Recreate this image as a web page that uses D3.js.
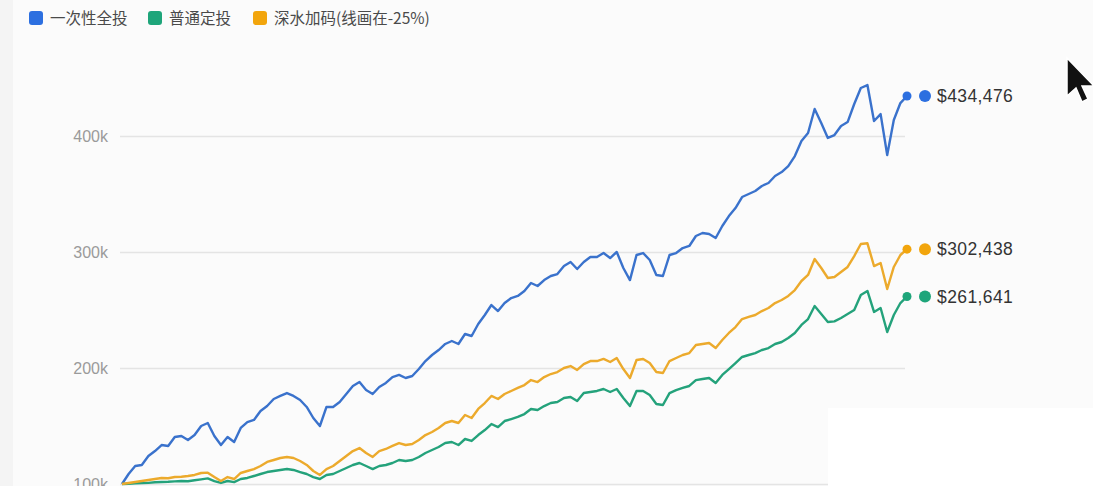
<!DOCTYPE html>
<html>
<head>
<meta charset="utf-8">
<script src="https://cdn.jsdelivr.net/npm/d3@7"></script>
<style>
  html, body { margin: 0; padding: 0; background: #fbfbfb; }
  svg { display: block; }
</style>
</head>
<body>
<svg id="chart"></svg>
<script>
// values in thousands of dollars, one point per period
let lumpSum = [
  100, 108.6, 115.5, 116.4, 124.1, 128.4, 133.6, 132.8, 140.5, 141.4,
  137.9, 142.2, 150.0, 152.6, 141.4, 133.6, 140.5, 136.2, 148.3, 153.4,
  155.2, 162.9, 167.2, 173.3, 175.9, 178.4, 175.9, 172.4, 166.4, 156.9,
  150.0, 166.4, 166.4, 170.7, 177.6, 184.5, 187.9, 181.0, 177.6, 183.6,
  187.1, 192.2, 194.0, 191.4, 193.1, 199.1, 206.0, 211.2, 215.5, 220.7,
  223.3, 220.7, 229.3, 227.6, 237.9, 245.7, 254.3, 249.1, 256.0, 260.3,
  262.1, 266.4, 273.3, 270.7, 275.8, 279.3, 281.0, 287.9, 291.4, 285.3,
  291.4, 295.7, 295.7, 299.1, 294.8, 300.0, 286.2, 275.8, 297.4, 299.1,
  293.1, 280.2, 279.3, 297.4, 299.1, 303.4, 305.2, 313.8, 316.4, 315.5,
  312.1, 322.4, 331.0, 337.9, 347.4, 350.0, 352.6, 356.9, 359.5, 365.5,
  368.9, 374.1, 382.7, 395.7, 402.6, 423.3, 411.2, 398.3, 400.8, 408.6,
  412.0, 427.6, 441.4, 443.9, 412.9, 418.9, 383.6, 413.8, 428.4, 434.476
];

let regularDca = [
  100, 100.2, 100.5, 100.8, 101.0, 101.5, 101.7, 101.9, 102.3, 102.6,
  102.4, 103.2, 104.0, 104.8, 102.5, 100.9, 102.6, 101.6, 104.3, 105.2,
  106.9, 108.6, 110.3, 111.2, 112.1, 112.9, 112.1, 110.3, 108.6, 106.0,
  104.3, 107.8, 108.6, 111.2, 113.8, 116.4, 118.1, 115.5, 112.9, 115.5,
  116.4, 118.1, 120.7, 119.8, 120.7, 123.3, 126.7, 129.3, 131.9, 135.3,
  136.2, 133.6, 138.8, 137.1, 142.2, 146.5, 151.7, 149.1, 154.3, 156.0,
  157.8, 160.3, 164.7, 163.8, 167.2, 169.8, 170.7, 174.1, 175.0, 171.5,
  178.4, 179.3, 180.2, 181.9, 179.3, 181.9, 174.1, 167.2, 180.2, 180.2,
  176.7, 169.0, 168.1, 178.4, 181.0, 182.8, 184.5, 189.6, 190.5, 191.4,
  187.1, 194.0, 199.1, 204.3, 209.5, 211.2, 212.9, 215.5, 217.2, 220.7,
  222.4, 225.9, 230.2, 237.1, 242.2, 253.4, 246.5, 239.6, 240.2, 243.1,
  246.5, 250.0, 262.9, 266.4, 248.3, 251.7, 231.0, 245.7, 256.0, 261.641
];

let deepValue = [
  100, 100.9, 101.7, 102.6, 103.4, 104.3, 105.2, 105.0, 106.0, 106.3,
  106.9, 107.8, 109.5, 109.8, 106.0, 102.6, 106.0, 104.3, 109.5, 111.2,
  112.9, 115.5, 119.0, 120.7, 122.4, 123.3, 122.4, 119.8, 116.4, 111.2,
  107.8, 112.9, 115.5, 119.8, 124.1, 128.4, 131.0, 126.7, 123.3, 128.4,
  130.2, 132.8, 135.3, 133.6, 134.5, 137.9, 142.2, 144.8, 148.3, 152.6,
  154.3, 152.6, 159.5, 156.9, 164.7, 169.8, 175.9, 173.3, 177.6, 180.2,
  182.8, 185.3, 189.6, 187.9, 192.2, 194.8, 196.5, 200.0, 201.7, 198.3,
  203.4, 206.0, 206.0, 207.8, 205.2, 208.6, 199.1, 191.4, 206.9, 207.8,
  204.3, 196.5, 195.7, 206.0, 208.6, 211.2, 212.9, 219.8, 220.7, 221.5,
  217.2, 224.1, 230.2, 235.3, 242.2, 244.0, 245.7, 249.1, 251.7, 256.0,
  258.6, 262.1, 267.2, 275.0, 280.2, 293.9, 286.2, 277.6, 278.4, 282.7,
  287.1, 296.5, 306.9, 307.5, 287.9, 290.5, 268.1, 287.1, 297.4, 302.438
];

let seriesNames = ["一次性全投", "普通定投", "深水加码(线画在-25%)"];
let yTicks = [100, 200, 300, 400];

let width = 1093;
let height = 486;
let plot = {left: 122, right: 907, top: 136, bottom: 484};
let lineColors = ["#3a72cc", "#24a27b", "#ecaa2c"];
let dotColors = ["#2c6fe0", "#1ea57a", "#f2a50c"];
let font = "'Helvetica Neue', Arial, 'Liberation Sans', 'Noto Sans CJK SC', sans-serif";

let series = [lumpSum, regularDca, deepValue];

let svg = d3.select("#chart")
    .attr("width", width)
    .attr("height", height)
    .style("font-family", font);

// faint strip on the far left, as in the screen grab
svg.append("rect")
    .attr("x", 0).attr("y", 0)
    .attr("width", 13).attr("height", height)
    .attr("fill", "#f4f4f4");

let xScale = d3.scaleLinear()
    .domain([0, lumpSum.length - 1])
    .range([plot.left, plot.right]);

let yScale = d3.scaleLinear()
    .domain([100, 400])
    .range([plot.bottom, plot.top]);

// y axis with gridlines
let yAxis = d3.axisLeft(yScale)
    .tickValues(yTicks)
    .tickFormat(d => d + "k")
    .tickSize(-(plot.right - plot.left))
    .tickPadding(12);

let yAxisG = svg.append("g")
    .attr("transform", "translate(" + (plot.left - 2) + ",0)")
    .call(yAxis);

yAxisG.select(".domain").remove();
yAxisG.selectAll(".tick line")
    .attr("stroke", "#e4e4e4")
    .attr("stroke-width", 1.5);
yAxisG.selectAll(".tick text")
    .attr("fill", "#9a9a9a")
    .style("font-size", "16px")
    .style("font-family", font);

// lines
let line = d3.line()
    .x((d, i) => xScale(i))
    .y(d => yScale(d));

svg.selectAll(".series")
    .data(series)
    .enter()
    .append("path")
    .attr("class", "series")
    .attr("d", d => line(d))
    .attr("fill", "none")
    .attr("stroke", (d, i) => lineColors[i])
    .attr("stroke-width", 2.4)
    .attr("stroke-linejoin", "round");

// end markers + labels
let ends = series.map((s, i) => ({value: s[s.length - 1], idx: s.length - 1, color: dotColors[i]}));

svg.selectAll(".end-dot")
    .data(ends)
    .enter()
    .append("circle")
    .attr("cx", d => xScale(d.idx))
    .attr("cy", d => yScale(d.value))
    .attr("r", 4.5)
    .attr("fill", d => d.color);

svg.selectAll(".label-dot")
    .data(ends)
    .enter()
    .append("circle")
    .attr("cx", d => xScale(d.idx) + 18)
    .attr("cy", d => yScale(d.value))
    .attr("r", 6)
    .attr("fill", d => d.color);

let money = d3.format("$,.0f");
svg.selectAll(".end-label")
    .data(ends)
    .enter()
    .append("text")
    .attr("x", d => xScale(d.idx) + 30)
    .attr("y", d => yScale(d.value))
    .attr("dy", "0.36em")
    .attr("fill", "#333")
    .style("font-size", "17.5px")
    .style("letter-spacing", "0.4px")
    .text(d => money(d.value * 1000));

// white patch over the bottom right corner
svg.append("rect")
    .attr("x", 828).attr("y", 408)
    .attr("width", width - 828).attr("height", height - 408)
    .attr("fill", "#ffffff");

// legend
let legendX = [29, 148, 253];
let legend = svg.selectAll(".legend")
    .data(seriesNames)
    .enter()
    .append("g")
    .attr("transform", (d, i) => "translate(" + legendX[i] + ",11)");

legend.append("rect")
    .attr("width", 14).attr("height", 14)
    .attr("rx", 3)
    .attr("fill", (d, i) => dotColors[i]);

legend.append("text")
    .attr("x", 21)
    .attr("y", 7)
    .attr("dy", "0.36em")
    .attr("fill", "#4a4a4a")
    .style("font-size", "15.5px")
    .style("font-family", "'Noto Sans CJK SC', " + font)
    .text(d => d);

// mouse pointer seen in the capture
svg.append("path")
    .attr("d", "M1067,58 L1067,96 L1076,88 L1082,102 L1088,99 L1082,86 L1094,86 Z")
    .attr("fill", "#111")
    .attr("stroke", "#fff")
    .attr("stroke-width", 1.5);
</script>
</body>
</html>
